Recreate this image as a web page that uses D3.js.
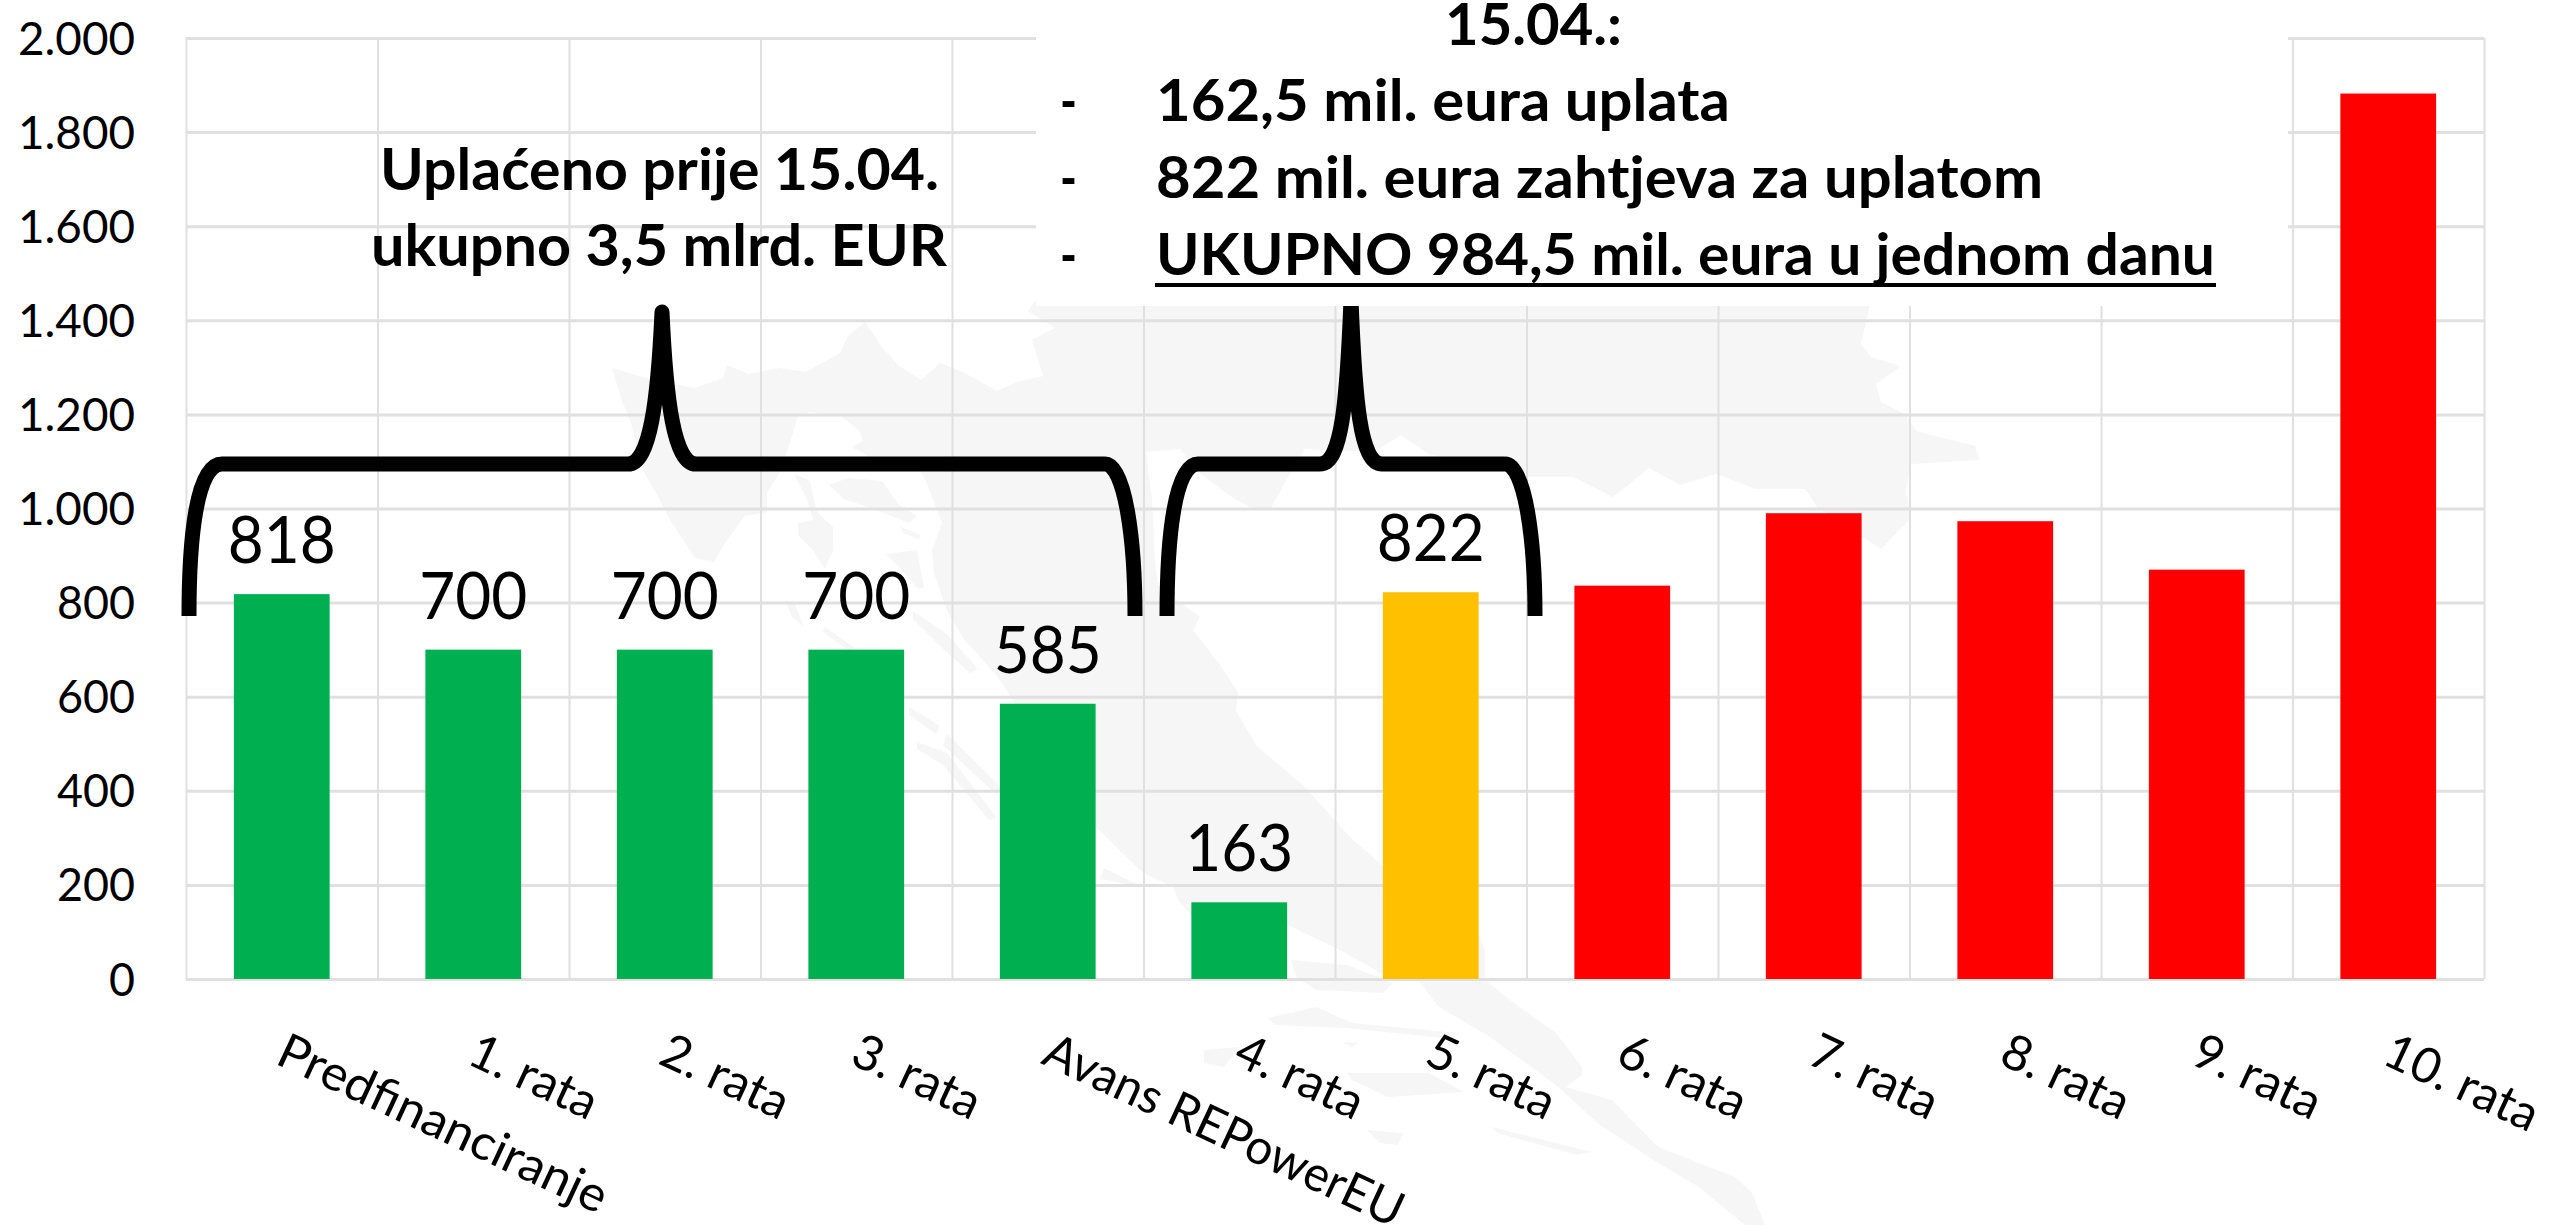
<!DOCTYPE html>
<html>
<head>
<meta charset="utf-8">
<script src="https://cdn.jsdelivr.net/npm/d3@7"></script>
<style>
  body { margin: 0; background: #fff; }
  svg { display: block; }
  svg text { font-family: Lato, sans-serif; }
  .grid .domain { display: none; }
  .grid line { stroke: #e0e0e0; }
</style>
</head>
<body>
<div class="canvas"></div>
<script>
const categories = ["Predfinanciranje", "1. rata", "2. rata", "3. rata", "Avans REPowerEU", "4. rata", "5. rata", "6. rata", "7. rata", "8. rata", "9. rata", "10. rata"];
const values = [818, 700, 700, 700, 585, 163, 822, 836, 990, 973, 870, 1882];
const valueLabels = ["818", "700", "700", "700", "585", "163", "822", "", "", "", "", ""];
const statuses = ["paid", "paid", "paid", "paid", "paid", "paid", "requested", "open", "open", "open", "open", "open"];
const yTicks = [0, 200, 400, 600, 800, 1000, 1200, 1400, 1600, 1800, 2000];

const colors = { paid: "#00b050", requested: "#ffc000", open: "#ff0000" };

// background map of Croatia (page pixels)
const mapParts = [
  [[612,368],[653,380],[695,388],[723,378],[727,365],[748,374],[779,368],[806,372],[840,353],[848,336],[865,322],[882,347],[898,365],[921,380],[940,363],[963,372],[997,391],[1016,382],[1043,376],[1032,340],[1055,328],[1028,311],[1035,301],[1047,300],[1871,300],[1861,344],[1871,357],[1901,366],[1876,384],[1881,402],[1906,415],[1916,431],[1975,446],[1980,460],[1911,464],[1906,491],[1911,518],[1881,549],[1818,508],[1805,489],[1756,489],[1716,474],[1680,485],[1649,468],[1613,497],[1573,477],[1528,477],[1500,462],[1430,455],[1401,435],[1376,451],[1336,451],[1305,449],[1292,470],[1271,508],[1256,510],[1233,498],[1198,472],[1180,449],[1146,452],[1152,500],[1155,560],[1158,585],[1180,602],[1200,617],[1193,630],[1220,665],[1238,692],[1236,711],[1256,745],[1305,787],[1350,837],[1384,867],[1480,937],[1485,950],[1485,980],[1510,1000],[1556,1033],[1582,1067],[1582,1075],[1566,1087],[1576,1090],[1612,1100],[1658,1147],[1735,1177],[1752,1193],[1765,1225],[1745,1225],[1699,1187],[1658,1163],[1600,1125],[1556,1085],[1490,1037],[1439,1007],[1418,980],[1384,975],[1340,950],[1288,925],[1200,925],[1178,900],[1173,887],[1143,873],[1096,827],[997,676],[963,638],[947,611],[934,573],[932,550],[942,523],[926,481],[913,458],[886,462],[871,458],[852,447],[863,441],[859,430],[840,416],[810,412],[798,416],[790,443],[779,474],[767,493],[767,512],[745,516],[725,543],[714,562],[695,558],[672,523],[656,493],[645,474],[630,420],[622,401]],
  [[829,485],[848,478],[882,481],[898,504],[917,516],[909,523],[871,508],[844,499]],
  [[794,474],[810,481],[817,512],[833,527],[833,550],[825,569],[813,550],[798,535],[798,523],[813,520],[806,497]],
  [[886,554],[917,550],[924,588],[917,588],[901,569]],
  [[901,527],[921,535],[919,539],[903,533]],
  [[785,600],[794,602],[804,627],[792,617]],
  [[825,627],[855,648],[848,650],[823,632]],
  [[913,611],[947,634],[978,669],[970,673],[940,646],[913,619]],
  [[917,742],[947,753],[997,818],[989,820],[943,765],[917,749]],
  [[909,707],[940,726],[936,734],[909,715]],
  [[947,734],[1001,787],[997,795],[943,745]],
  [[1150,833],[1180,845],[1154,845]],
  [[1104,868],[1142,887],[1100,879]],
  [[1291,960],[1347,965],[1393,983],[1383,993],[1316,990],[1296,977]],
  [[1268,1018],[1316,1007],[1352,1023],[1459,1033],[1444,1038],[1347,1028],[1275,1025]],
  [[1204,1050],[1240,1047],[1224,1067],[1204,1063]],
  [[1347,1073],[1429,1073],[1464,1092],[1388,1097],[1352,1080]],
  [[1492,1127],[1592,1152],[1577,1155],[1497,1133]],
  [[1367,1130],[1403,1133],[1398,1145],[1380,1143]],
  [[1342,1042],[1357,1043],[1352,1047]]
];

const plot = { left: 186, right: 2484, top: 38, bottom: 979 };
const width = plot.right - plot.left;
const height = plot.bottom - plot.top;

const svg = d3.select(".canvas").append("svg").attr("width", 2552).attr("height", 1225);

svg.append("path")
  .attr("fill", "#f6f6f6")
  .attr("d", mapParts.map((p) => "M" + p.join("L") + "Z").join(""));

const x = d3.scaleBand().domain(categories).range([plot.left, plot.right]).paddingInner(0.5).paddingOuter(0.25);
const xEdges = d3.scaleLinear().domain([0, categories.length]).range([plot.left, plot.right]);
const y = d3.scaleLinear().domain([0, 2000]).range([plot.bottom, plot.top]);

const locale = d3.formatLocale({ decimal: ",", thousands: ".", grouping: [3], currency: ["", ""] });

const yAxis = d3.axisLeft(y).tickValues(yTicks).tickSize(-width).tickPadding(51).tickFormat(locale.format(","));
const yGroup = svg.append("g").attr("class", "grid").attr("transform", `translate(${plot.left},0)`).call(yAxis);
yGroup.selectAll("line").attr("stroke-width", 3);
yGroup.selectAll("text")
  .attr("font-size", 47)
  .attr("fill", "#000")
  .attr("dy", null)
  .attr("y", 16)
  .attr("textLength", (d) => (d >= 1000 ? 117 : d > 0 ? 78 : 26))
  .attr("lengthAdjust", "spacingAndGlyphs");

const xGrid = d3.axisBottom(xEdges).tickValues(d3.range(categories.length + 1)).tickSize(-height).tickFormat("");
svg.append("g").attr("class", "grid").attr("transform", `translate(0,${plot.bottom})`).call(xGrid)
  .selectAll("line").attr("stroke-width", 2);

svg.append("g").selectAll("rect")
  .data(categories)
  .enter()
  .append("rect")
  .attr("x", (d) => x(d))
  .attr("width", x.bandwidth())
  .attr("y", (d, i) => y(values[i]))
  .attr("height", (d, i) => y(0) - y(values[i]))
  .attr("fill", (d, i) => colors[statuses[i]]);

svg.append("g").selectAll("text")
  .data(categories)
  .enter()
  .append("text")
  .attr("x", (d) => x(d) + x.bandwidth() / 2)
  .attr("y", (d, i) => y(values[i]) - 31)
  .attr("text-anchor", "middle")
  .attr("font-size", 66)
  .attr("fill", "#000")
  .attr("textLength", 108)
  .attr("lengthAdjust", "spacingAndGlyphs")
  .text((d, i) => valueLabels[i]);

const xAxis = d3.axisBottom(x).tickSize(0).tickPadding(0);
const xGroup = svg.append("g").attr("transform", `translate(0,${plot.bottom})`).call(xAxis);
xGroup.select(".domain").remove();
xGroup.selectAll("text")
  .attr("font-size", 49)
  .attr("fill", "#000")
  .attr("text-anchor", "start")
  .attr("dy", null)
  .attr("y", 0)
  .attr("transform", "translate(-8,84) rotate(25)")
  .attr("lengthAdjust", "spacingAndGlyphs")
  .filter((d) => d.length > 8)
  .attr("textLength", (d) => (d === "Predfinanciranje" ? 358 : 391));

// curly braces over the paid and the 15.04. bars
const braces = [
  "M189,616C189,540 196,464 222,464L628,464C650,464 658,400 662,312C666,400 674,464 696,464L1105,464C1125,464 1135,540 1135,616",
  "M1167,616C1167,540 1174,464 1198,464L1320,464C1342,464 1347,400 1351,300C1355,400 1360,464 1382,464L1505,464C1525,464 1535,540 1535,616"
];
svg.append("g").selectAll("path")
  .data(braces)
  .enter()
  .append("path")
  .attr("d", (d) => d)
  .attr("fill", "none")
  .attr("stroke", "#000")
  .attr("stroke-width", 15)
  .attr("stroke-linejoin", "round");

svg.append("rect").attr("x", 1036).attr("y", 0).attr("width", 1252).attr("height", 306).attr("fill", "#fff");

const notes = [
  { text: "Uplaćeno prije 15.04.", x: 380, y: 190, w: 559 },
  { text: "ukupno 3,5 mlrd. EUR", x: 371, y: 266, w: 576 },
  { text: "15.04.:", x: 1445, y: 45, w: 177 },
  { text: "-", x: 1060, y: 121, w: 17 },
  { text: "162,5 mil. eura uplata", x: 1156, y: 121, w: 574 },
  { text: "-", x: 1060, y: 198, w: 17 },
  { text: "822 mil. eura zahtjeva za uplatom", x: 1156, y: 198, w: 887 },
  { text: "-", x: 1060, y: 275, w: 17 },
  { text: "UKUPNO 984,5 mil. eura u jednom danu", x: 1156, y: 275, w: 1059 }
];
svg.append("g").selectAll("text")
  .data(notes)
  .enter()
  .append("text")
  .attr("x", (d) => d.x)
  .attr("y", (d) => d.y)
  .attr("font-size", 58)
  .attr("font-weight", 700)
  .attr("fill", "#000")
  .attr("textLength", (d) => d.w)
  .attr("lengthAdjust", "spacingAndGlyphs")
  .text((d) => d.text);

svg.append("line").attr("x1", 1155).attr("x2", 2216).attr("y1", 285).attr("y2", 285).attr("stroke", "#000").attr("stroke-width", 4);
</script>
</body>
</html>
